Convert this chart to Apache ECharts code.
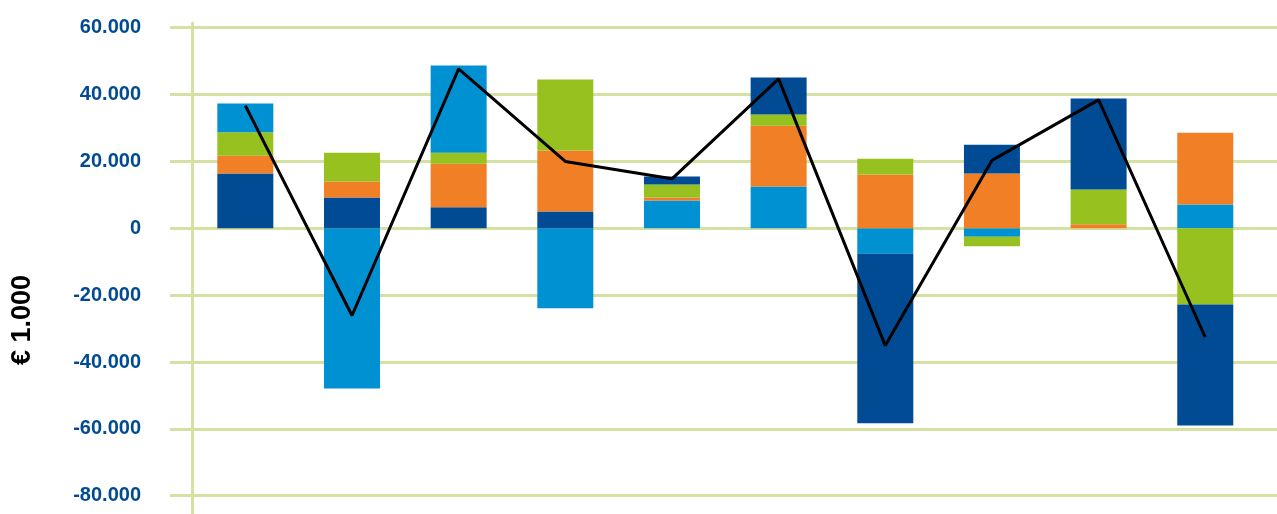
<!DOCTYPE html>
<html>
<head>
<meta charset="utf-8">
<script src="https://cdn.jsdelivr.net/npm/echarts@6/dist/echarts.min.js"></script>
<style>
  html, body { margin: 0; padding: 0; background: #ffffff; }
  #chart { width: 1277px; height: 514px; }
</style>
</head>
<body>
<div id="chart"></div>
<script>
// ---- data (values in € 1.000) ----
const categories = ['1', '2', '3', '4', '5', '6', '7', '8', '9', '10'];
const lightBlueA = [0, -47900, 0, -23900, 8300, 12500, -7600, -2500, 0, 7100];
const darkBlueA  = [16400, 9200, 6300, 5000, 0, 0, -50700, 0, 0, 0];
const orangeVals = [5300, 4800, 13000, 18300, 900, 18200, 16100, 16400, 1200, 21500];
const greenVals  = [7000, 8600, 3300, 21200, 3900, 3300, 4700, -2900, 10400, -22800];
const lightBlueB = [8600, 0, 26100, 0, 0, 0, 0, 0, 0, 0];
const darkBlueB  = [0, 0, 0, 0, 2400, 11100, 0, 8600, 27200, -36200];
const totalVals  = [36700, -26100, 47700, 20000, 14800, 44700, -35100, 20300, 38400, -32600];
const tickValues = [-80000, -60000, -40000, -20000, 0, 20000, 40000, 60000];
const tickLabels = ['-80.000', '-60.000', '-40.000', '-20.000', '0', '20.000', '40.000', '60.000'];
const axisTitle = '€ 1.000';

const C_DB = '#004b93', C_LB = '#0091d2', C_OR = '#f07f26', C_GR = '#97c11f';
const GRID_COLOR = '#d3e2a0';

const chart = echarts.init(document.getElementById('chart'));

function barSeries(name, data, color) {
  return {
    name: name, type: 'bar', stack: 'total', data: data,
    xAxisIndex: 0, yAxisIndex: 0,
    barWidth: 56, itemStyle: { color: color }, z: 3
  };
}

chart.setOption({
  animation: false,
  backgroundColor: '#ffffff',
  grid: [
    { left: 192, right: 18.4, top: 27.7, bottom: 18.3 },   // data
    { left: 170, right: 0, top: 27.7, bottom: 18.3 },      // grid lines
    { left: 192, right: 0, top: 23, bottom: 0 }            // vertical axis line
  ],
  xAxis: [
    { type: 'category', gridIndex: 0, data: categories, axisLine: { show: false },
      axisTick: { show: false }, axisLabel: { show: false } },
    { type: 'value', gridIndex: 1, show: false, min: 0, max: 1 },
    { type: 'value', gridIndex: 2, show: false, min: 0, max: 1 }
  ],
  yAxis: [
    { type: 'value', gridIndex: 0, min: -80000, max: 60000, interval: 20000,
      axisLine: { show: false }, axisTick: { show: false }, splitLine: { show: false },
      axisLabel: {
        margin: 51, color: '#004b93', fontFamily: 'Liberation Sans, Arial, sans-serif',
        fontWeight: 'bold', fontSize: 20,
        formatter: function (v) { const i = tickValues.indexOf(v); return i >= 0 ? tickLabels[i] : ''; }
      } },
    { type: 'value', gridIndex: 1, min: -80000, max: 60000, interval: 20000,
      axisLine: { show: false }, axisTick: { show: false }, axisLabel: { show: false },
      splitLine: { show: true, lineStyle: { color: GRID_COLOR, width: 3 } } },
    { type: 'value', gridIndex: 2, min: 0, max: 1,
      axisLine: { show: true, lineStyle: { color: GRID_COLOR, width: 3 } },
      axisTick: { show: false }, axisLabel: { show: false }, splitLine: { show: false } }
  ],
  graphic: [
    { type: 'text', x: 23, y: 320, rotation: Math.PI / 2,
      style: { text: axisTitle, fill: '#000000', font: 'bold 27px "Liberation Sans", Arial, sans-serif',
               textAlign: 'center', textVerticalAlign: 'middle' } }
  ],
  series: [
    barSeries('Serie A1', lightBlueA, C_LB),
    barSeries('Serie A2', darkBlueA, C_DB),
    barSeries('Serie B', orangeVals, C_OR),
    barSeries('Serie C', greenVals, C_GR),
    barSeries('Serie D1', lightBlueB, C_LB),
    barSeries('Serie D2', darkBlueB, C_DB),
    { name: 'Totaal', type: 'line', data: totalVals, xAxisIndex: 0, yAxisIndex: 0,
      symbol: 'none', lineStyle: { color: '#000000', width: 3 }, itemStyle: { color: '#000000' }, z: 5 }
  ]
});
</script>
</body>
</html>
